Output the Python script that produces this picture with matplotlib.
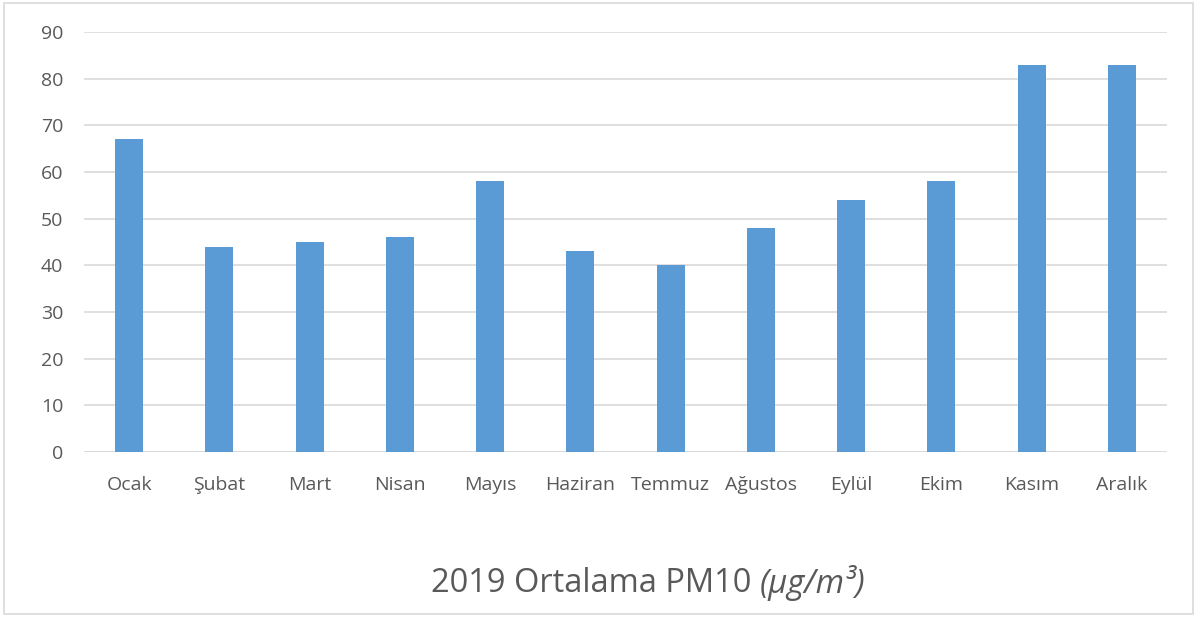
import matplotlib
matplotlib.use("Agg")
import matplotlib.pyplot as plt
from matplotlib.patches import Rectangle

months = ["Ocak", "Şubat", "Mart", "Nisan", "Mayıs", "Haziran", "Temmuz",
          "Ağustos", "Eylül", "Ekim", "Kasım", "Aralık"]
pm10 = [67, 44, 45, 46, 58, 43, 40, 48, 54, 58, 83, 83]
yticks = [0, 10, 20, 30, 40, 50, 60, 70, 80, 90]

plt.rcParams['font.family'] = ['Open Sans', 'DejaVu Sans']

W, H = 1200, 617
fig = plt.figure(figsize=(W/100, H/100), dpi=100)
ax = fig.add_axes([84/W, 1-452/H, (1167-84)/W, (452-32)/H])

x = list(range(len(months)))
ax.bar(x, pm10, width=0.31, color="#5B9BD5", zorder=3)
ax.set_xlim(-0.5, len(months)-0.5)
ax.set_ylim(0, 90)
ax.set_yticks(yticks)
ax.set_xticks(x)
ax.set_xticklabels(months)
ax.yaxis.grid(True, color="#D9D9D9", linewidth=1.2, zorder=0)
for s in ax.spines.values():
    s.set_visible(False)
ax.axhline(0, color="#D9D9D9", linewidth=1.2, zorder=2)
ax.tick_params(axis='both', length=0, labelsize=14, colors="#595959")
ax.tick_params(axis='y', pad=15)
ax.tick_params(axis='x', pad=17)

t1 = fig.text(0, 1-583/H, "2019 Ortalama PM10 ", ha="left", va="center",
              fontsize=23.5, color="#595959")
t2 = fig.text(0, 1-583/H, "(µg/m³)", ha="left", va="center",
              fontsize=23.5, color="#595959", style="italic")
fig.canvas.draw()
r = fig.canvas.get_renderer()
w1 = t1.get_window_extent(r).width
w2 = t2.get_window_extent(r).width
start = 648 - (w1 + w2) / 2
t1.set_x(start / W)
t2.set_x((start + w1) / W)

fig.patches.append(Rectangle((4/W, 3/H), (1193-4)/W, (614-3)/H,
                             transform=fig.transFigure, fill=False,
                             edgecolor="#D9D9D9", linewidth=1.2))

fig.savefig("out.png", dpi=100)
